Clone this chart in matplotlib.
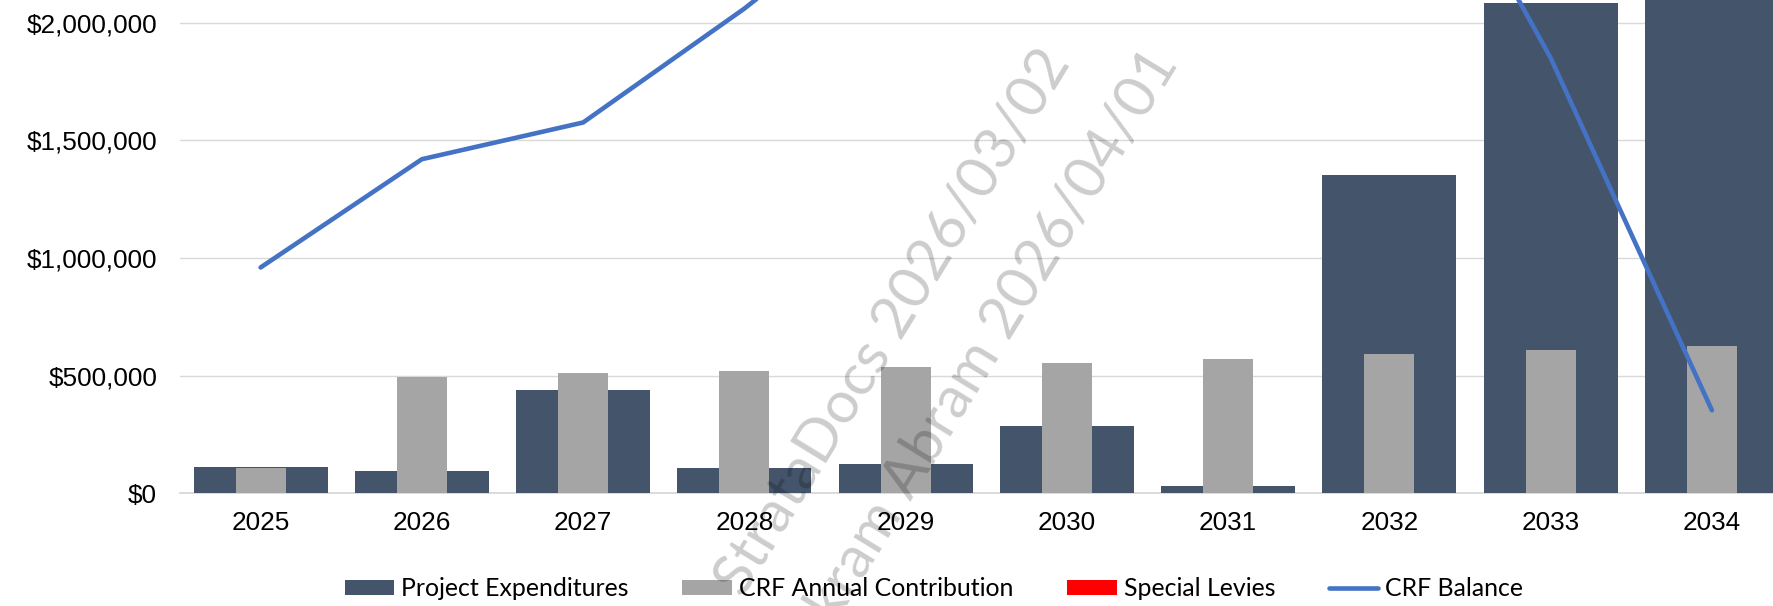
import matplotlib
matplotlib.use("Agg")
import matplotlib.pyplot as plt
from matplotlib.patches import Patch
from matplotlib.lines import Line2D
from matplotlib.ticker import FuncFormatter, MultipleLocator
import numpy as np

# ---- data -------------------------------------------------------------
years = ["2025", "2026", "2027", "2028", "2029", "2030", "2031", "2032", "2033", "2034"]
project_expenditures = [112000, 95000, 440000, 110000, 127000, 286000, 31000, 1351000, 2083000, 2220000]
crf_contribution = [106000, 496000, 510000, 522000, 538000, 555000, 572000, 591000, 608000, 627000]
special_levies = [0, 0, 0, 0, 0, 0, 0, 0, 0, 0]
crf_balance = [960000, 1420000, 1576000, 2060000, 2600000, 3000000, 3690000, 3090000, 1850000, 353000]

series_names = ["Project Expenditures", "CRF Annual Contribution", "Special Levies", "CRF Balance"]
watermark_lines = ["StrataDocs 2026/03/02", "Vikram Abram 2026/04/01"]

# ---- styling ----------------------------------------------------------
C_EXP = "#44546A"
C_CRF = "#A5A5A5"
C_LEVY = "#FF0000"
C_BAL = "#4472C4"
C_GRID = "#D9D9D9"

W, H, DPI = 1774, 606, 100
fig = plt.figure(figsize=(W / DPI, H / DPI), dpi=DPI)
ax = fig.add_axes([180 / W, 112.6 / H, 1 - 180 / W, 1 - 112.6 / H])

x = np.arange(len(years))

ax.bar(x, project_expenditures, width=0.83, color=C_EXP, zorder=2, linewidth=0)
ax.bar(x, crf_contribution, width=0.31, color=C_CRF, zorder=3, linewidth=0)
ax.bar(x, special_levies, width=0.31, color=C_LEVY, zorder=3, linewidth=0)
ax.plot(x, crf_balance, color=C_BAL, lw=3.3, zorder=4, solid_capstyle="round",
        solid_joinstyle="round")

ax.set_xlim(-0.5, 9.385)
ax.set_ylim(0, 2096400)
ax.yaxis.set_major_locator(MultipleLocator(500000))
ax.yaxis.set_major_formatter(FuncFormatter(lambda v, p: f"${v:,.0f}"))
ax.set_xticks(x)
ax.set_xticklabels(years)

for lab in ax.get_xticklabels() + ax.get_yticklabels():
    lab.set_fontfamily("Liberation Sans")
    lab.set_fontsize(18.8)
ax.tick_params(axis="both", length=0)
ax.tick_params(axis="y", pad=16.5)
ax.tick_params(axis="x", pad=13)

ax.grid(axis="y", color=C_GRID, lw=1.0, zorder=0)
ax.set_axisbelow(True)
for s in ("top", "right", "left"):
    ax.spines[s].set_visible(False)
ax.spines["bottom"].set_color(C_GRID)
ax.spines["bottom"].set_linewidth(1.3)
ax.spines["bottom"].set_zorder(1)

# ---- legend -----------------------------------------------------------
handles = [
    Patch(facecolor=C_EXP, edgecolor="none"),
    Patch(facecolor=C_CRF, edgecolor="none"),
    Patch(facecolor=C_LEVY, edgecolor="none"),
    Line2D([0], [0], color=C_BAL, lw=3.3, solid_capstyle="round"),
]
leg = fig.legend(handles, series_names, loc="center", bbox_to_anchor=(934 / W, 1 - 589 / H),
                 ncol=4, frameon=False, prop=dict(family="Lato", size=17.9),
                 handlelength=2.0, handleheight=0.54, handletextpad=0.28,
                 columnspacing=2.15, borderpad=0, borderaxespad=0)

# ---- watermark --------------------------------------------------------
angle = 58.5
wm_style = dict(family="Lato", size=42.5, color="black", alpha=0.2, rotation=angle,
                rotation_mode="anchor", ha="right", va="baseline", zorder=10)
fig.text(1071 / W, 1 - 63 / H, watermark_lines[0], **wm_style)
fig.text(1179 / W, 1 - 63 / H, watermark_lines[1], **wm_style)

fig.savefig("out.png", dpi=DPI)
